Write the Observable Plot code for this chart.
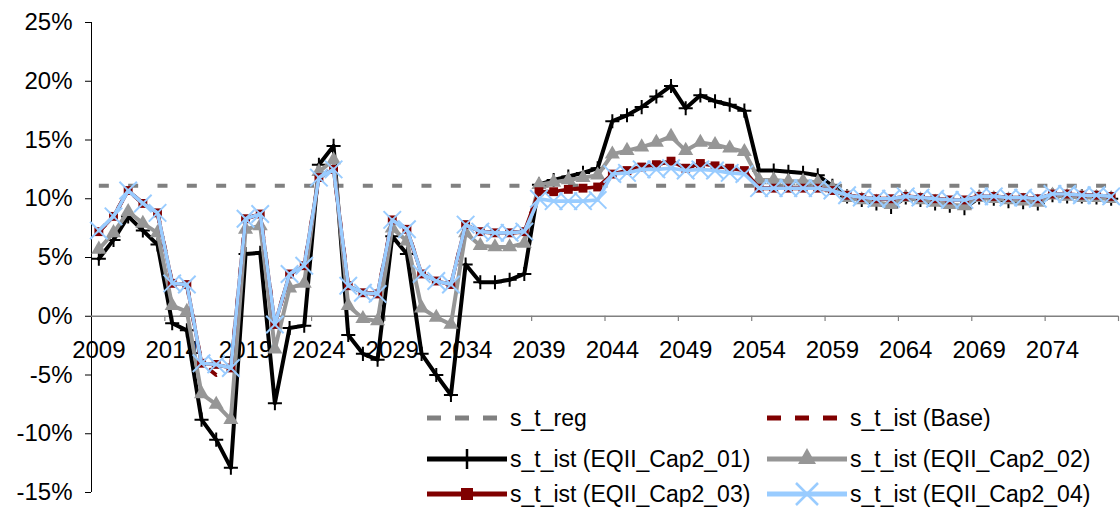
<!DOCTYPE html>
<html>
<head>
<meta charset="utf-8">
<script src="https://cdn.jsdelivr.net/npm/d3@7"></script>
<script src="https://cdn.jsdelivr.net/npm/@observablehq/plot@0.6"></script>
<style>
  html, body { margin: 0; padding: 0; background: #fff; }
  #wrap { position: relative; width: 1120px; height: 509px; font-family: "Liberation Sans", Arial, sans-serif; }
  #legend { position: absolute; left: 0; top: 0; pointer-events: none; }
</style>
</head>
<body>
<div id="wrap"></div>
<script>
// ---- Data ----
const years = d3.range(2009, 2079); // categories 2009..2078
const xTickLabels = [2009, 2014, 2019, 2024, 2029, 2034, 2039, 2044, 2049, 2054, 2059, 2064, 2069, 2074];
const yTicks = [-15, -10, -5, 0, 5, 10, 15, 20, 25];

const sReg = [
  11.1,11.1,11.1,11.1,11.1,11.1,11.1,11.1,11.1,11.1,
  11.1,11.1,11.1,11.1,11.1,11.1,11.1,11.1,11.1,11.1,
  11.1,11.1,11.1,11.1,11.1,11.1,11.1,11.1,11.1,11.1,
  11.1,11.1,11.1,11.1,11.1,11.1,11.1,11.1,11.1,11.1,
  11.1,11.1,11.1,11.1,11.1,11.1,11.1,11.1,11.1,11.1,
  11.1,11.1,11.1,11.1,11.1,11.1,11.1,11.1,11.1,11.1,
  11.1,11.1,11.1,11.1,11.1,11.1,11.1,11.1,11.1,11.1
];
const sBase = [
  7.2,8.5,10.7,9.6,8.8,2.8,2.7,-4.0,-5.0,-4.4,
  8.3,8.7,-0.7,3.6,4.3,11.8,12.5,2.6,2.0,1.9,
  8.2,7.4,3.6,3.0,2.7,7.8,7.2,7.1,7.1,7.2,
  10.6,10.6,10.8,10.9,11.0,11.9,12.4,12.7,12.9,13.2,
  12.6,13.0,12.8,12.6,12.4,10.9,10.9,10.9,10.9,10.9,
  10.7,10.3,10.1,10.0,10.0,10.2,10.1,10.0,9.9,9.9,
  10.2,10.2,10.1,10.1,10.0,10.4,10.4,10.3,10.3,10.2
];
const sCap01 = [
  4.9,6.5,8.5,7.3,6.1,-0.6,-1.2,-8.8,-10.5,-12.9,
  5.3,5.4,-7.4,-1.0,-0.8,12.9,14.5,-1.6,-3.2,-3.7,
  6.8,5.3,-3.2,-5.0,-6.7,4.4,2.9,2.9,3.1,3.6,
  11.2,11.6,11.9,12.2,12.6,16.6,17.1,17.8,18.7,19.6,
  17.7,18.8,18.3,18.0,17.5,12.4,12.4,12.3,12.2,12.0,
  11.1,10.2,9.9,9.6,9.3,10.1,9.9,9.6,9.4,9.2,
  10.1,10.0,9.8,9.7,9.6,10.3,10.2,10.2,10.1,10.0
];
const sCap02 = [
  5.7,7.1,8.9,7.9,7.1,0.9,0.4,-6.6,-7.5,-8.8,
  7.4,7.7,-2.8,2.4,2.8,12.3,13.3,0.9,-0.2,-0.4,
  7.5,6.4,0.7,-0.1,-0.7,7.1,6.0,5.9,5.9,6.2,
  11.2,11.4,11.6,11.8,12.0,13.8,14.1,14.4,14.8,15.3,
  14.1,14.8,14.6,14.3,14.0,11.6,11.6,11.5,11.5,11.4,
  10.9,10.1,9.9,9.7,9.5,10.1,9.9,9.7,9.5,9.4,
  10.1,10.0,9.9,9.8,9.7,10.3,10.2,10.1,10.1,10.0
];
const sCap03 = [
  7.2,8.5,10.7,9.6,8.8,2.8,2.7,-4.0,-4.1,-4.4,
  8.3,8.7,-0.7,3.6,4.3,11.8,12.5,2.6,2.0,1.9,
  8.2,7.4,3.6,3.0,2.7,7.8,7.2,7.1,7.1,7.2,
  10.6,10.6,10.8,10.9,11.0,12.1,12.4,12.7,12.9,13.2,
  12.6,13.0,12.8,12.6,12.4,10.9,10.9,10.9,10.9,10.9,
  10.7,10.3,10.1,10.0,10.0,10.2,10.1,10.0,9.9,9.9,
  10.2,10.2,10.1,10.1,10.0,10.4,10.4,10.3,10.3,10.2
];
const sCap04 = [
  7.3,8.5,10.7,9.6,8.8,2.8,2.7,-4.0,-4.1,-4.4,
  8.3,8.7,-0.7,3.6,4.3,11.8,12.5,2.6,2.0,1.9,
  8.2,7.4,3.6,3.0,2.7,7.8,7.2,7.1,7.1,7.2,
  10.0,9.8,9.8,9.8,9.9,12.1,12.2,12.5,12.5,12.6,
  12.4,12.5,12.4,12.2,12.1,10.9,10.9,10.9,10.9,10.9,
  10.7,10.3,10.1,10.0,10.0,10.2,10.1,10.0,9.9,9.9,
  10.2,10.2,10.1,10.1,10.0,10.4,10.4,10.3,10.3,10.2
];

const seriesNames = ["s_t_reg", "s_t_ist (Base)", "s_t_ist (EQII_Cap2_01)", "s_t_ist (EQII_Cap2_02)", "s_t_ist (EQII_Cap2_03)", "s_t_ist (EQII_Cap2_04)"];
const seriesColors = ["#808080", "#800000", "#000000", "#969696", "#800000", "#99CCFF"];

const toRows = (vals) => years.map((y, i) => ({year: y, v: vals[i]}));
const reg = toRows(sReg), base = toRows(sBase), c1 = toRows(sCap01), c2 = toRows(sCap02), c3 = toRows(sCap03), c4 = toRows(sCap04);

const xMin = years[0] - 0.5, xMax = years[years.length - 1] + 0.5;
const xBoundaries = d3.range(xMin + 5, xMax + 0.01, 5);

const chart = Plot.plot({
  width: 1120,
  height: 509,
  marginLeft: 91,
  marginRight: 2,
  marginTop: 22,
  marginBottom: 17,
  style: {fontFamily: "'Liberation Sans', Arial, sans-serif", fontSize: "24px", color: "#000", background: "#fff", overflow: "visible"},
  x: {domain: [xMin, xMax], axis: null},
  y: {domain: [-15, 25], ticks: yTicks, tickFormat: d => d + "%", tickSize: 6, tickPadding: 13, label: null},
  marks: [
    Plot.ruleX([xMin], {y1: -15, y2: 25, stroke: "#000", strokeWidth: 1}),
    Plot.text(xTickLabels, {x: d => d, y: 0, dy: 34, text: d => String(d), fontSize: 24, textAnchor: "middle"}),
    Plot.ruleY([0], {stroke: "#808080", strokeWidth: 1.5}),
    Plot.ruleX(xBoundaries, {y1: 0, y2: -0.45, stroke: "#808080", strokeWidth: 1.2}),
    // s_t_reg
    Plot.line(reg, {x: "year", y: "v", stroke: seriesColors[0], strokeWidth: 4, strokeDasharray: "10,19.33", strokeLinecap: "butt"}),
    // Base
    Plot.line(base, {x: "year", y: "v", stroke: seriesColors[1], strokeWidth: 4, strokeDasharray: "10,19.33", strokeLinecap: "butt"}),
    // Cap2_01
    Plot.line(c1, {x: "year", y: "v", stroke: seriesColors[2], strokeWidth: 4}),
    Plot.dot(c1, {x: "year", y: "v", symbol: "plus", r: 4.6, stroke: seriesColors[2], strokeWidth: 2}),
    // Cap2_02
    Plot.line(c2, {x: "year", y: "v", stroke: seriesColors[3], strokeWidth: 4}),
    Plot.dot(c2, {x: "year", y: "v", symbol: "triangle", r: 5.6, fill: seriesColors[3], stroke: "none"}),
    // Cap2_03
    Plot.line(c3, {x: "year", y: "v", stroke: seriesColors[4], strokeWidth: 3.6}),
    Plot.dot(c3, {x: "year", y: "v", symbol: "square", r: 5.0, fill: seriesColors[4], stroke: "none"}),
    // Cap2_04
    Plot.line(c4, {x: "year", y: "v", stroke: seriesColors[5], strokeWidth: 3.6}),
    Plot.dot(c4, {x: "year", y: "v", symbol: "times", r: 8.0, stroke: seriesColors[5], strokeWidth: 2})
  ]
});
const wrap = document.getElementById("wrap");
wrap.appendChild(chart);

// ---- Legend overlay (inside plot area, as in the reference) ----
const ns = "http://www.w3.org/2000/svg";
const lg = document.createElementNS(ns, "svg");
lg.setAttribute("id", "legend");
lg.setAttribute("width", 1120);
lg.setAttribute("height", 509);
wrap.appendChild(lg);
function el(name, attrs, parent) {
  const e = document.createElementNS(ns, name);
  for (const k in attrs) e.setAttribute(k, attrs[k]);
  (parent || lg).appendChild(e);
  return e;
}
const legendItems = [
  {i: 0, col: 0, row: 0, dashed: true},
  {i: 1, col: 1, row: 0, dashed: true},
  {i: 2, col: 0, row: 1, sym: "plus"},
  {i: 3, col: 1, row: 1, sym: "triangle"},
  {i: 4, col: 0, row: 2, sym: "square"},
  {i: 5, col: 1, row: 2, sym: "times"}
];
const colX = [427, 767], textX = [510, 850], rowY = [418, 459, 494];
for (const it of legendItems) {
  const x0 = colX[it.col], y0 = rowY[it.row], c = seriesColors[it.i];
  if (it.dashed) {
    el("line", {x1: x0, x2: x0 + 70, y1: y0, y2: y0, stroke: c, "stroke-width": 5, "stroke-dasharray": "14,14"});
  } else {
    el("line", {x1: x0, x2: x0 + 80, y1: y0, y2: y0, stroke: c, "stroke-width": 5});
    const cx = x0 + 40;
    if (it.sym === "plus") el("path", {d: `M${cx-9},${y0}H${cx+9}M${cx},${y0-10}V${y0+10}`, stroke: c, "stroke-width": 2.5});
    if (it.sym === "triangle") el("path", {d: `M${cx},${y0-11}L${cx+9},${y0+5}L${cx-9},${y0+5}Z`, fill: c});
    if (it.sym === "square") el("rect", {x: cx - 6, y: y0 - 6, width: 12, height: 12, fill: c});
    if (it.sym === "times") el("path", {d: `M${cx-11},${y0-11}L${cx+11},${y0+11}M${cx-11},${y0+11}L${cx+11},${y0-11}`, stroke: c, "stroke-width": 2.5});
  }
  const t = el("text", {x: textX[it.col], y: y0 + 8, "font-size": 23, "font-family": "'Liberation Sans', Arial, sans-serif", fill: "#000"});
  t.textContent = seriesNames[it.i];
}
</script>
</body>
</html>
